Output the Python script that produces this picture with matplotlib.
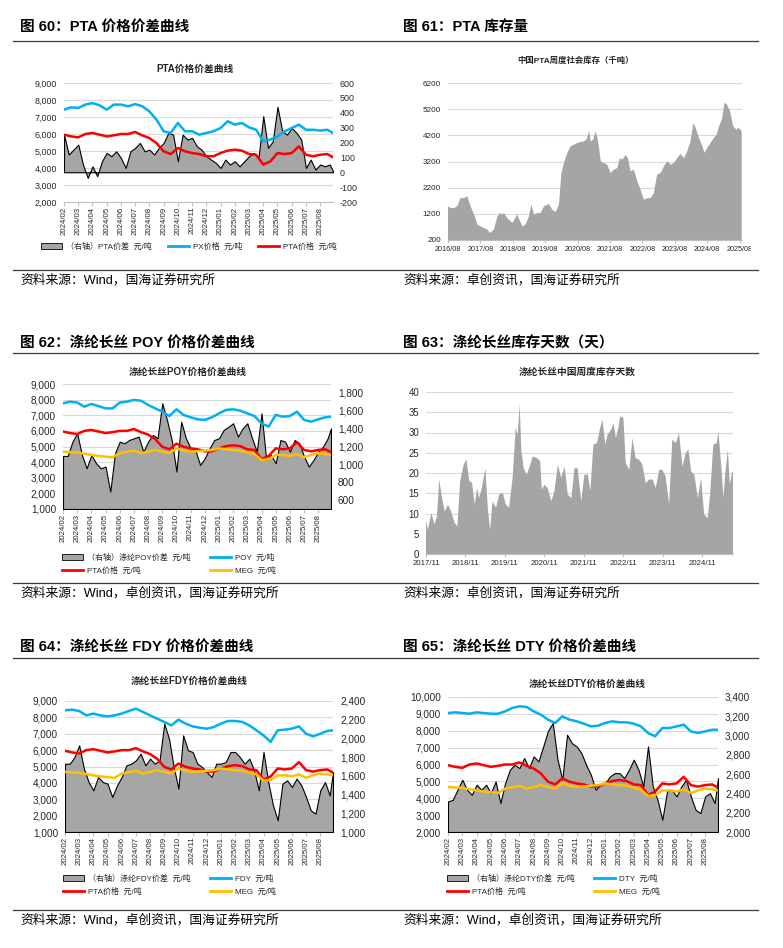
import numpy as np
import pandas as pd
import matplotlib
matplotlib.use("Agg")
import matplotlib.pyplot as plt
from matplotlib.patches import Patch
from matplotlib.lines import Line2D
from matplotlib.ticker import FuncFormatter, MultipleLocator
from matplotlib.transforms import Bbox, TransformedBbox

plt.rcParams['font.family'] = ['Liberation Sans', 'Noto Sans CJK SC', 'DejaVu Sans']

W, H = 783, 948

# time axis of the price charts: months since 2024/02
month_labels = list(pd.date_range('2024-02-01', periods=19, freq='MS').strftime('%Y/%m'))
t_line = np.r_[np.arange(38) / 2, 18.9]      # half-month samples
t_spread = np.r_[np.arange(57) / 3, 18.9]    # third-month samples

pta = [5960, 5860, 5800, 6000, 6060, 5960, 5860, 5920, 6000, 6000, 6120, 5920, 5760,
       5470, 4980, 4820, 5180, 4980, 4880, 4820, 4690, 4690, 4880, 5020, 5080, 5020,
       4820, 4780, 4200, 4390, 4880, 4820, 4880, 5270, 4780, 4690, 4780, 4820, 4630]
meg = [4670, 4640, 4610, 4540, 4460, 4400, 4350, 4310, 4570, 4650, 4740, 4570, 4670,
       4780, 4670, 4570, 4880, 4740, 4670, 4700, 4740, 4780, 4880, 4820, 4780, 4740,
       4610, 4520, 4140, 4180, 4460, 4460, 4400, 4520, 4310, 4460, 4570, 4520, 4460]
px = [7430, 7570, 7530, 7730, 7820, 7690, 7430, 7730, 7730, 7630, 7760, 7630, 7330,
      6840, 6160, 6060, 6650, 6160, 6160, 5960, 6060, 6160, 6350, 6750, 6550, 6650,
      6390, 6250, 5570, 5670, 5860, 6160, 6350, 6550, 6250, 6250, 6200, 6250, 6060]
poy = [7760, 7870, 7810, 7550, 7720, 7590, 7440, 7440, 7810, 7870, 7980, 7930, 7660,
       7440, 7230, 6950, 7380, 7020, 6870, 6740, 6700, 6870, 7120, 7340, 7380, 7290,
       7120, 6950, 6480, 6270, 7020, 6910, 6950, 7230, 6700, 6590, 6740, 6870, 6910]
fdy = [8430, 8470, 8390, 8120, 8230, 8120, 8060, 8120, 8230, 8390, 8530, 8330, 8120,
       7920, 7720, 7510, 7860, 7620, 7450, 7370, 7310, 7410, 7620, 7780, 7780, 7720,
       7510, 7210, 6900, 6500, 7210, 7250, 7310, 7450, 7000, 6840, 7000, 7170, 7210]
dty = [9050, 9090, 9050, 9010, 9090, 9050, 9010, 9010, 9150, 9350, 9450, 9410, 9150,
       8950, 8660, 8460, 8850, 8660, 8560, 8420, 8260, 8300, 8460, 8560, 8500, 8500,
       8420, 8260, 7870, 7670, 8160, 8160, 8260, 8360, 7960, 7870, 7960, 8060, 8060]

pta_spread = [253, 119, 152, 186, 52, -38, 40, -27, 74, 130, 108, 141,
              96, 29, 141, 164, 197, 141, 152, 119, 164, 197, 265, 253,
              74, 253, 220, 231, 175, 152, 108, 85, 63, 29, 85, 52,
              74, 40, 74, 108, 130, 96, 377, 164, 208, 440, 276, 253,
              298, 265, 220, 29, 85, 18, 52, 40, 52, 7]
poy_spread = [1094, 1094, 1254, 1348, 1105, 956, 1105, 1012, 956, 975, 695, 1124,
              1254, 1236, 1273, 1292, 1310, 1142, 1254, 1329, 1292, 1684, 1497, 1273,
              919, 1478, 1292, 1180, 1161, 993, 1068, 1180, 1273, 1292, 1385, 1422,
              1460, 1310, 1403, 1460, 1292, 1142, 1571, 1049, 1105, 1012, 1273, 1254,
              1142, 1273, 1236, 1086, 975, 1049, 1142, 1198, 1292, 1403]
fdy_spread = [1730, 1730, 1800, 1926, 1677, 1534, 1445, 1588, 1534, 1516, 1374, 1499,
              1588, 1712, 1730, 1766, 1837, 1712, 1784, 1730, 1766, 2158, 1997, 1695,
              1463, 2033, 1873, 1855, 1730, 1695, 1641, 1588, 1730, 1730, 1748, 1855,
              1855, 1800, 1730, 1784, 1659, 1445, 1855, 1534, 1285, 1125, 1516, 1552,
              1481, 1570, 1499, 1374, 1231, 1196, 1445, 1534, 1392, 1641]
dty_spread = [2317, 2334, 2438, 2542, 2438, 2386, 2490, 2438, 2490, 2403, 2524, 2300,
              2507, 2646, 2697, 2663, 2767, 2663, 2784, 2732, 2888, 3050, 3130, 2750,
              2542, 3009, 2922, 2888, 2819, 2697, 2594, 2438, 2490, 2507, 2576, 2611,
              2611, 2559, 2646, 2750, 2646, 2473, 2888, 2473, 2334, 2127, 2421, 2438,
              2369, 2473, 2542, 2369, 2230, 2196, 2369, 2403, 2300, 2559]

# PTA social inventory (kt), decimal years
t61 = [2016.58, 2016.67, 2016.77, 2016.87, 2016.97, 2017.08, 2017.18, 2017.28, 2017.39, 2017.49,
       2017.59, 2017.69, 2017.80, 2017.88, 2018.00, 2018.11, 2018.19, 2018.26, 2018.31, 2018.41,
       2018.57, 2018.72, 2018.88, 2018.98, 2019.08, 2019.16, 2019.24, 2019.34, 2019.44, 2019.55,
       2019.70, 2019.80, 2019.91, 2020.01, 2020.08, 2020.16, 2020.27, 2020.37, 2020.47, 2020.58,
       2020.68, 2020.78, 2020.86, 2020.94, 2020.99, 2021.07, 2021.14, 2021.21, 2021.30, 2021.40,
       2021.50, 2021.60, 2021.71, 2021.81, 2021.89, 2021.96, 2022.07, 2022.14, 2022.22, 2022.32,
       2022.43, 2022.53, 2022.63, 2022.74, 2022.84, 2022.94, 2023.04, 2023.15, 2023.25, 2023.35,
       2023.46, 2023.56, 2023.66, 2023.76, 2023.87, 2023.97, 2024.07, 2024.16, 2024.23, 2024.33,
       2024.44, 2024.50, 2024.59, 2024.69, 2024.79, 2024.88, 2024.95, 2025.05, 2025.12, 2025.20,
       2025.29, 2025.39, 2025.49, 2025.56, 2025.65]
v61 = [1490, 1420, 1420, 1490, 1800, 1800, 1870, 1490, 1170, 790,
       720, 660, 600, 470, 600, 1100, 1230, 1170, 1230, 1040,
       850, 1170, 720, 790, 1100, 1550, 1170, 1230, 1230, 1490,
       1580, 1360, 1270, 1550, 2700, 3140, 3530, 3780, 3840, 3910,
       3950, 3970, 4040, 4380, 3970, 4040, 4350, 4040, 3210, 3140,
       3080, 2760, 2890, 2950, 3330, 3270, 3440, 3330, 2820, 2890,
       2440, 2120, 1740, 1800, 1800, 2000, 2700, 2760, 3020, 3210,
       3080, 3140, 3330, 3490, 3330, 3590, 3970, 4670, 4480, 4100,
       3780, 3530, 3720, 3910, 4100, 4230, 4540, 4860, 5440, 5370,
       5120, 4540, 4420, 4500, 4350]
ticks61 = [200, 1200, 2200, 3200, 4200, 5200, 6200]

# polyester filament inventory days
t63 = [2017.83, 2017.88, 2017.97, 2018.05, 2018.11, 2018.17, 2018.24, 2018.31, 2018.39, 2018.47,
       2018.56, 2018.63, 2018.70, 2018.79, 2018.86, 2018.93, 2019.00, 2019.07, 2019.13, 2019.18,
       2019.25, 2019.34, 2019.40, 2019.46, 2019.52, 2019.61, 2019.69, 2019.78, 2019.86, 2019.94,
       2020.03, 2020.11, 2020.16, 2020.21, 2020.25, 2020.31, 2020.39, 2020.48, 2020.54, 2020.65,
       2020.73, 2020.77, 2020.84, 2020.92, 2021.01, 2021.09, 2021.18, 2021.26, 2021.35, 2021.43,
       2021.52, 2021.60, 2021.68, 2021.77, 2021.85, 2021.94, 2022.00, 2022.08, 2022.17, 2022.25,
       2022.31, 2022.38, 2022.44, 2022.53, 2022.59, 2022.65, 2022.72, 2022.76, 2022.84, 2022.90,
       2022.99, 2023.07, 2023.15, 2023.24, 2023.32, 2023.41, 2023.49, 2023.58, 2023.66, 2023.75,
       2023.83, 2023.91, 2024.00, 2024.08, 2024.17, 2024.25, 2024.34, 2024.42, 2024.49, 2024.56,
       2024.64, 2024.73, 2024.81, 2024.89, 2024.98, 2025.04, 2025.12, 2025.21, 2025.25, 2025.32,
       2025.38, 2025.42, 2025.49, 2025.54, 2025.60, 2025.62]
v63 = [8.5, 6.0, 10.1, 7.2, 9.3, 18.4, 13.8, 10.5, 12.2, 10.5,
       7.7, 6.8, 18.0, 22.1, 23.3, 18.0, 17.6, 12.2, 16.3, 13.8,
       16.3, 21.2, 11.4, 6.0, 13.0, 11.4, 14.7, 15.1, 12.2, 11.4,
       18.8, 31.1, 29.5, 37.0, 25.8, 21.2, 19.6, 22.1, 24.1, 23.7,
       22.9, 15.9, 17.1, 16.3, 13.0, 15.5, 22.1, 18.8, 21.6, 14.7,
       13.8, 21.2, 21.2, 13.0, 19.6, 19.6, 15.5, 27.0, 27.4, 31.1,
       33.2, 27.0, 29.5, 30.7, 32.3, 28.6, 31.5, 34.0, 33.6, 22.5,
       20.8, 28.6, 23.7, 23.3, 22.1, 17.5, 18.4, 18.4, 16.3, 20.8,
       20.8, 19.2, 12.2, 28.2, 27.4, 29.9, 21.6, 24.9, 25.8, 20.4,
       19.6, 13.8, 18.8, 9.7, 8.9, 14.7, 27.0, 27.4, 30.3, 22.1,
       13.8, 19.6, 25.8, 17.1, 20.4, 20.0]
ticks63 = [0, 5, 10, 15, 20, 25, 30, 35, 40]

BLUE, RED, YEL, GRAY = '#00b0f0', '#ff0000', '#ffc000', '#a6a6a6'
TXT = '#262626'

fig = plt.figure(figsize=(W / 100, H / 100), dpi=100)


def box(l, t, r, b):
    return [l / W, 1 - b / H, (r - l) / W, (b - t) / H]


def fy(y):
    return 1 - y / H


def comma(v, _):
    return f'{v:,.0f}'


def rule(y):
    fig.add_artist(Line2D([13 / W, 758 / W], [fy(y)] * 2, color='#3a3a3a', lw=0.9))


def header(x, y, text):
    fig.text(x / W, fy(y), text, fontsize=10.5, fontweight='bold', color='black', va='center')


def source(x, y, text):
    fig.text(x / W, fy(y), text, fontsize=9.2, color='black', va='center')


def inner_title(x, y, text, fs=7):
    fig.text(x / W, fy(y), text, fontsize=fs, fontweight='bold', color=TXT, ha='center', va='center')


def price_chart(pos, llim, rlim, rstep, spread, base, lines, leg, leg_xy, ncol, lfs=7.2, colsp=2.0):
    ax = fig.add_axes(pos)
    ax.set_xlim(0, 18.9)
    ax.set_ylim(*llim)
    ax.yaxis.set_major_locator(MultipleLocator(1000))
    ax.yaxis.set_major_formatter(FuncFormatter(comma))
    ax.grid(axis='y', color='#d9d9d9', lw=0.8)
    ax.set_xticks(range(19))
    ax.set_xticklabels(month_labels, rotation=90, fontsize=5.6, va='top', ha='center', color=TXT)
    ax.tick_params(axis='y', length=0, labelsize=lfs, pad=5, labelcolor=TXT)
    ax.tick_params(axis='x', length=3, color='#bfbfbf', pad=0.5)
    for s in ('top', 'left', 'right'):
        ax.spines[s].set_visible(False)
    ax.spines['bottom'].set_color('#bfbfbf')

    ax2 = ax.twinx()
    ax2.set_ylim(*rlim)
    ax2.yaxis.set_major_locator(MultipleLocator(rstep))
    ax2.yaxis.set_major_formatter(FuncFormatter(comma))
    ax2.tick_params(axis='y', length=0, labelsize=lfs, pad=5, labelcolor=TXT)
    for s in ax2.spines.values():
        s.set_visible(False)
    ax2.fill_between(t_spread, base, spread, facecolor=GRAY, edgecolor='black', lw=0.8)

    ax3 = fig.add_axes(pos, sharex=ax, sharey=ax)
    ax3.axis('off')
    for vals, c in lines:
        ax3.plot(t_line, vals, color=c, lw=1.8, solid_joinstyle='round')

    handles = []
    for kind, c, lab in leg:
        if kind == 'area':
            handles.append(Patch(facecolor=GRAY, edgecolor='black', lw=0.6, label=lab))
        else:
            handles.append(Line2D([], [], color=c, lw=2.0, label=lab))
    ax3.legend(handles=handles, loc='center left', bbox_to_anchor=(leg_xy[0] / W, fy(leg_xy[1])),
               bbox_transform=fig.transFigure, ncol=ncol, frameon=False, fontsize=5.8,
               handlelength=2.6, handletextpad=0.5, columnspacing=colsp, labelspacing=0.55,
               borderpad=0, borderaxespad=0, labelcolor=TXT)
    return ax


def area_chart(pos, t, v, base, ylim, yticks, xlim, xticks, xlabels, yfs, xfs, clip_x=None):
    ax = fig.add_axes(pos)
    ax.fill_between(t, base, v, facecolor='#a5a5a5', edgecolor='none')
    ax.set_xlim(*xlim)
    ax.set_ylim(*ylim)
    ax.set_yticks(yticks)
    ax.set_yticklabels([f'{v:.0f}' for v in yticks])
    ax.set_axisbelow(True)
    ax.grid(axis='y', color='#d9d9d9', lw=0.8)
    ax.set_xticks(xticks)
    ax.set_xticklabels(xlabels, fontsize=xfs, color=TXT)
    ax.tick_params(axis='y', length=0, labelsize=yfs, pad=5, labelcolor=TXT)
    ax.tick_params(axis='x', length=2.5, color='#bfbfbf', pad=2)
    for s in ('top', 'left', 'right'):
        ax.spines[s].set_visible(False)
    ax.spines['bottom'].set_color('#bfbfbf')
    if clip_x is not None:
        clip = TransformedBbox(Bbox([[0, 0], [clip_x / W, 1]]), fig.transFigure)
        for lbl in ax.get_xticklabels():
            lbl.set_clip_on(True)
            lbl.set_clip_box(clip)
    return ax


# ---- frame: rules, headers, sources
for y in (41, 270, 353, 583, 658, 910):
    rule(y)

header(20, 27, '图 60：PTA 价格价差曲线')
header(403, 27, '图 61：PTA 库存量')
header(20, 343, '图 62：涤纶长丝 POY 价格价差曲线')
header(403, 343, '图 63：涤纶长丝库存天数（天）')
header(20, 647, '图 64：涤纶长丝 FDY 价格价差曲线')
header(403, 647, '图 65：涤纶长丝 DTY 价格价差曲线')

source(20, 280, '资料来源：Wind，国海证券研究所')
source(403, 280, '资料来源：卓创资讯，国海证券研究所')
source(20, 593, '资料来源：Wind，卓创资讯，国海证券研究所')
source(403, 593, '资料来源：卓创资讯，国海证券研究所')
source(20, 920, '资料来源：Wind，卓创资讯，国海证券研究所')
source(403, 920, '资料来源：Wind，卓创资讯，国海证券研究所')

inner_title(195, 69, 'PTA价格价差曲线')
inner_title(575, 61, '中国PTA周度社会库存（千吨）', fs=6)
inner_title(188, 372, '涤纶长丝POY价格价差曲线')
inner_title(577, 372, '涤纶长丝中国周度库存天数', fs=7)
inner_title(189, 681, '涤纶长丝FDY价格价差曲线')
inner_title(587, 684, '涤纶长丝DTY价格价差曲线')

# ---- Figure 60
price_chart(box(64, 83, 333, 202), (2000, 9000), (-200, 600), 100, pta_spread, 0,
            [(px, BLUE), (pta, RED)],
            [('area', None, '（右轴）PTA价差  元/吨'), ('line', BLUE, 'PX价格  元/吨'),
             ('line', RED, 'PTA价格  元/吨')],
            (41, 247), 3, lfs=6.4, colsp=2.0)

# ---- Figure 62
price_chart(box(63, 384, 331, 509), (1000, 9000), (500, 1900), 200, poy_spread, 500,
            [(poy, BLUE), (pta, RED), (meg, YEL)],
            [('area', None, '（右轴）涤纶POY价差  元/吨'), ('line', RED, 'PTA价格  元/吨'),
             ('line', BLUE, 'POY  元/吨'), ('line', YEL, 'MEG  元/吨')],
            (62, 564), 2, colsp=2.4)

# ---- Figure 64
price_chart(box(65, 701, 333, 832), (1000, 9000), (1000, 2400), 200, fdy_spread, 1000,
            [(fdy, BLUE), (pta, RED), (meg, YEL)],
            [('area', None, '（右轴）涤纶FDY价差  元/吨'), ('line', RED, 'PTA价格  元/吨'),
             ('line', BLUE, 'FDY  元/吨'), ('line', YEL, 'MEG  元/吨')],
            (63, 885), 2, colsp=2.4)

# ---- Figure 65
price_chart(box(448, 697, 718, 832), (2000, 10000), (2000, 3400), 200, dty_spread, 2000,
            [(dty, BLUE), (pta, RED), (meg, YEL)],
            [('area', None, '（右轴）涤纶DTY价差  元/吨'), ('line', RED, 'PTA价格  元/吨'),
             ('line', BLUE, 'DTY  元/吨'), ('line', YEL, 'MEG  元/吨')],
            (447, 885), 2, colsp=2.4)

# ---- Figure 61
yrs61 = np.arange(10)
area_chart(box(448, 83, 742, 240), t61, v61, 200, (200, 6200), ticks61,
           (2016 + 7 / 12, 2025.66), 2016 + 7 / 12 + yrs61,
           [f'{2016 + k}/08' for k in yrs61], 5.9, 5.2, clip_x=751)

# ---- Figure 63
yrs63 = np.arange(8)
area_chart(box(426, 392, 733, 554), t63, v63, 0, (0, 40), ticks63,
           (2017 + 10 / 12, 2025.62), 2017 + 10 / 12 + yrs63,
           [f'{2017 + k}/11' for k in yrs63], 6.9, 5.6)

fig.savefig('out.png', dpi=100)
